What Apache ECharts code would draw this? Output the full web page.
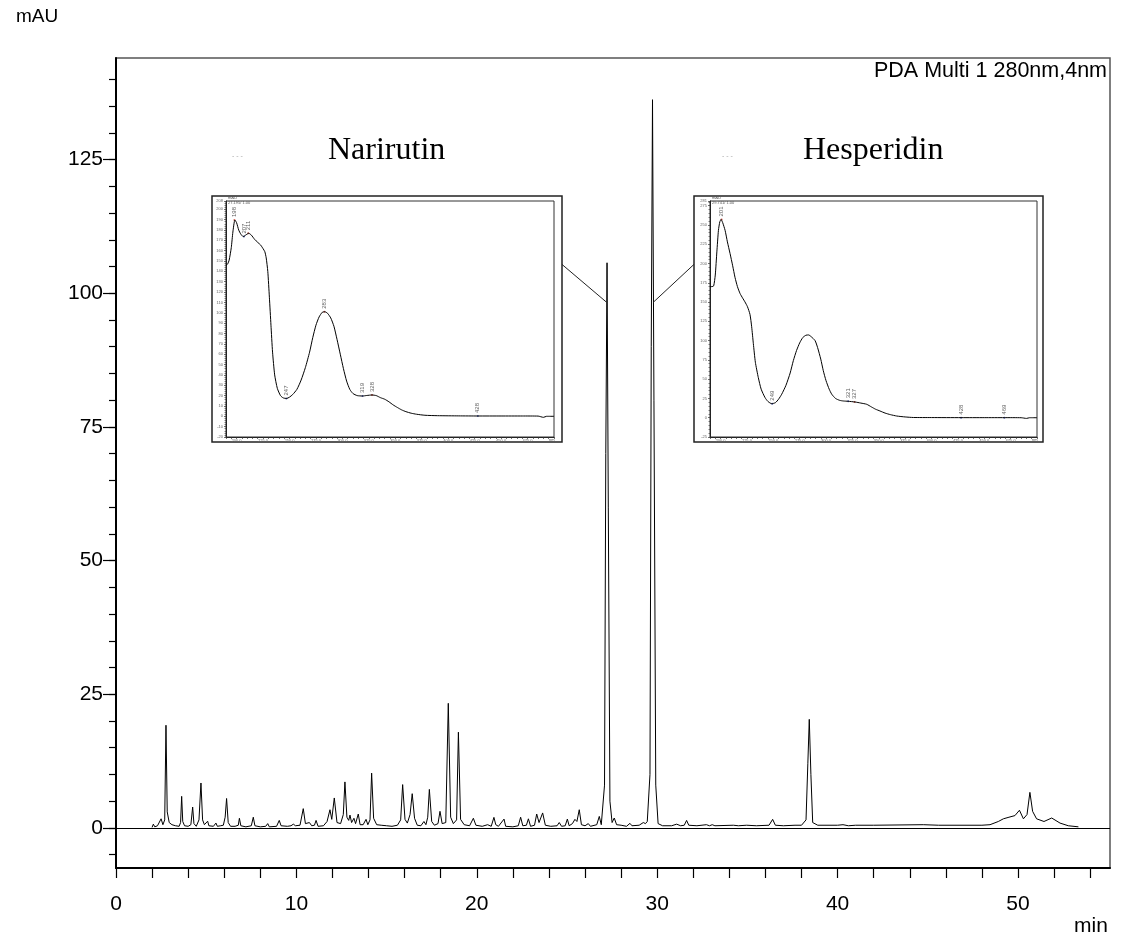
<!DOCTYPE html>
<html>
<head>
<meta charset="utf-8">
<script src="https://cdn.jsdelivr.net/npm/echarts@6/dist/echarts.min.js"></script>
<style>
  html, body { margin: 0; padding: 0; background: #fff; }
  #myChart { width: 1123px; height: 943px; }
</style>
</head>
<body>
<div id="myChart"></div>
<script>
// chromatogram, PDA 280 nm: [time min, mAU]
var trace = [
  [2.0,0.1],[2.07,0.7],[2.15,0.2],[2.3,0.4],[2.5,1.7],[2.6,0.6],[2.7,1.5],[2.77,19.2],[2.84,3],[2.95,1.0],[3.1,0.6],[3.3,0.4],
  [3.5,0.3],[3.58,1],[3.64,5.9],[3.7,1.2],[3.8,0.4],[4.0,0.3],[4.15,0.6],[4.25,3.9],[4.32,0.8],[4.45,0.3],[4.6,1.5],[4.71,8.4],
  [4.8,1.5],[4.9,0.6],[5.0,0.5],[5.08,1.25],[5.15,0.4],[5.4,0.3],[5.54,0.9],[5.62,0.3],[5.8,0.4],[5.95,0.5],[6.05,2],[6.13,5.5],
  [6.22,1],[6.35,0.3],[6.6,0.3],[6.78,0.5],[6.84,1.8],[6.92,0.4],[7.2,0.2],[7.5,0.4],[7.61,2.0],[7.7,0.4],[8.0,0.2],[8.3,0.3],
  [8.41,0.8],[8.5,0.2],[8.9,0.3],[9.05,1.4],[9.15,0.4],[9.5,0.3],[9.7,0.4],[9.83,0.7],[9.95,0.4],[10.2,0.5],[10.38,3.6],[10.5,0.8],
  [10.6,0.5],[10.72,1.0],[10.85,0.4],[11.0,0.5],[11.09,1.4],[11.2,0.3],[11.5,0.4],[11.7,1.2],[11.86,3.4],[11.96,1.6],[12.1,5.6],
  [12.25,1.0],[12.45,0.8],[12.6,2.5],[12.69,8.6],[12.8,2.0],[12.9,1.4],[12.97,2.4],[13.06,1.0],[13.19,1.8],[13.28,0.8],[13.43,2.6],
  [13.53,0.6],[13.7,0.6],[13.86,1.6],[13.96,0.6],[14.08,1.5],[14.17,10.25],[14.28,1.8],[14.45,0.6],[14.7,0.5],[15.0,0.4],[15.3,0.3],
  [15.6,0.5],[15.78,1.5],[15.89,8.1],[16.02,1.6],[16.15,0.9],[16.3,2.5],[16.42,6.4],[16.55,1.8],[16.7,0.5],[16.9,0.4],[17.07,1.2],
  [17.18,0.6],[17.28,2],[17.37,7.2],[17.5,1.2],[17.65,0.5],[17.85,0.8],[17.96,3.1],[18.08,0.8],[18.28,1.0],[18.42,23.3],[18.55,2],
  [18.7,0.8],[18.88,1.5],[18.98,17.9],[19.1,1.6],[19.3,0.6],[19.6,0.4],[19.81,1.8],[19.95,0.5],[20.3,0.3],[20.6,0.6],[20.8,0.3],
  [20.95,1.97],[21.05,0.6],[21.2,0.3],[21.51,1.65],[21.6,0.3],[22.0,0.2],[22.3,0.4],[22.43,2.0],[22.55,0.4],[22.75,0.5],[22.86,1.7],
  [22.98,0.3],[23.2,0.5],[23.32,2.6],[23.45,1.0],[23.65,2.8],[23.8,0.5],[24.1,0.3],[24.45,0.4],[24.57,1.0],[24.7,0.3],[24.9,0.4],
  [25.02,1.65],[25.12,0.4],[25.3,0.8],[25.44,1.6],[25.55,1.2],[25.68,3.4],[25.8,0.6],[26.0,0.4],[26.18,0.8],[26.3,0.3],[26.65,0.6],
  [26.79,2.15],[26.9,0.6],[27.0,0.6],[27.08,8],[27.15,70],[27.22,105.7],[27.29,60],[27.38,5],[27.5,1],[27.62,1.85],[27.75,0.6],
  [28.0,0.5],[28.3,0.3],[28.49,0.85],[28.6,0.4],[29.0,0.5],[29.23,1.0],[29.35,0.8],[29.45,1.2],[29.6,10],[29.67,90],[29.74,136.2],
  [29.82,80],[29.92,8],[30.05,0.8],[30.3,0.4],[30.8,0.4],[31.08,0.7],[31.3,0.4],[31.5,0.5],[31.63,1.4],[31.75,0.5],[32.2,0.4],
  [32.73,0.6],[32.9,0.4],[33.05,0.6],[33.2,0.4],[34.22,0.5],[34.5,0.4],[34.96,0.5],[35.5,0.4],[36.2,0.5],[36.4,1.6],[36.55,0.5],
  [37.0,0.4],[37.64,0.5],[38.0,0.5],[38.25,1.5],[38.35,12],[38.43,20.3],[38.52,10],[38.62,1.0],[38.9,0.5],[40.0,0.5],[40.3,0.6],
  [40.6,0.4],[41.0,0.5],[42.0,0.5],[44.75,0.6],[45.6,0.5],[48.0,0.5],[48.45,0.6],[48.91,1.2],[49.19,1.7],[49.5,2.0],[49.83,2.3],
  [50.08,3.3],[50.3,1.7],[50.5,2.5],[50.66,6.65],[50.81,3.1],[51.03,1.7],[51.44,1.2],[51.87,1.85],[52.33,0.9],[52.79,0.4],[53.35,0.2]
];

var xLabels = [0, 10, 20, 30, 40, 50];
var xTicks = [0,2,4,6,8,10,12,14,16,18,20,22,24,26,28,30,32,34,36,38,40,42,44,46,48,50,52,54];
var yLabels = [0, 25, 50, 75, 100, 125];
var yTicks = [-5,0,5,10,15,20,25,30,35,40,45,50,55,60,65,70,75,80,85,90,95,100,105,110,115,120,125,130,135,140];

// UV spectra of the two peaks: [nm, mAU]
var naruSpec = [
  [190,146],[191.5,147],[193,151],[195,163],[196.5,178],[198.4,189.6],[200,187],[202,180],[204,176],[206.3,173.6],[208.5,175],
  [211.5,176.8],[214,175],[217,171],[220,168],[222.7,165.5],[225,162],[226.7,159],[228,153],[229.5,140],[231,115],[232.5,88],
  [234,62],[236,40],[238.5,27],[241.5,20],[244,17.8],[247.2,17.2],[250,18.5],[253,21],[257,26],[261,35],[265,47],[269,62],
  [272,76],[275,88],[278,96],[281,100.5],[283.4,101],[286,99.5],[289,95],[292,87],[295,74],[298,60],[301,46],[304,34],[307,26],
  [310,22],[314,20],[319,19.6],[323,20.1],[328,20.6],[332,20],[336,18],[340,16.5],[344,14],[348,11],[352,8.5],[356,6.2],
  [360,4.5],[365,3],[370,2],[378,1],[390,0.6],[410,0.4],[428,0.3],[450,0.3],[470,0.3],[485,0.2],[490,-1],[493,0],[500,0]
];
var hespSpec = [
  [190,170],[192,170],[193.5,171],[195,185],[196.5,215],[198,243],[199.3,254],[200.5,257],[202,253],[204.3,243],[206.5,228],
  [209,213],[211.5,197],[213.7,182],[216,170],[218.5,161],[221,155],[223.2,150],[225.5,144],[227.9,134],[229.5,118],[231.1,96],
  [233,72],[235.8,52],[238.5,37],[242.2,26],[245,21],[248.5,18.2],[252,19.5],[255,24],[258,30.5],[262,42],[266,58],[269,74],
  [272,87],[275,97],[278,104],[281,107],[283.5,107.3],[286,105],[289.6,100],[292,91],[295,76],[297.4,61],[300,48],[303,37],
  [305.4,30.5],[309,25],[313,22.5],[316.4,21.7],[321,21.3],[327.5,20.4],[333,19],[338.6,17.4],[343,14],[347,11],[351.2,8.7],
  [356,6],[361,4],[367,2.2],[375,1],[382.8,0.3],[400,0.2],[428,0.1],[450,0.1],[469,0.1],[485,0],[490,-0.9],[493,0],[500,0]
];
var naruPeakNm = [198, 207, 211, 247, 283, 319, 328, 428];
var naruPeakAbs = [189.6, 173.6, 176.8, 17.2, 101, 19.6, 20.6, 0.3];
var naruPeakMax = [1, 0, 1, 0, 1, 0, 1, 0];
var hespPeakNm = [201, 249, 321, 327, 428, 469];
var hespPeakAbs = [257, 18.2, 21.3, 20.4, 0.1, 0.1];
var hespPeakMax = [1, 0, 0, 1, 0, 0];

// leader lines from the insets to the peaks
var naruLeader = [[24.72, 105.4], [27.2, 98.3]];
var hespLeader = [[32.04, 105.4], [29.78, 98.3]];

var mainFont = "'Liberation Sans', Arial, sans-serif";

function peakPoints(nm, abs, isMax) {
  var pts = [];
  nm.forEach(function (v, i) {
    pts.push({
      value: [v, abs[i]],
      itemStyle: { color: isMax[i] ? '#c0392b' : '#2c3e9c' }
    });
  });
  return pts;
}

function insetX(gi) {
  return {
    type: 'value', gridIndex: gi, min: 190, max: 500, interval: 5,
    axisLine: { onZero: false, lineStyle: { color: '#222', width: 1 } },
    axisTick: { show: true, length: 2, lineStyle: { color: '#333', width: 0.7 } },
    axisLabel: {
      fontSize: 4, color: '#666', margin: 2,
      formatter: function (v) { return (v % 25 === 0 && v < 500) ? v.toFixed(1) : ''; }
    },
    splitLine: { show: false }
  };
}
function insetY(gi, min, max, step) {
  return {
    type: 'value', gridIndex: gi, min: min, max: max, interval: step,
    axisLine: { onZero: false, lineStyle: { color: '#222', width: 1 } },
    axisTick: { show: true, length: 2, lineStyle: { color: '#333', width: 0.7 } },
    minorTick: { show: true, splitNumber: 5, length: 1.5, lineStyle: { color: '#333', width: 0.6 } },
    axisLabel: { fontSize: 4, color: '#666', margin: 3 },
    splitLine: { show: false }
  };
}

var option = {
  backgroundColor: '#fff',
  animation: false,
  grid: [
    { left: 116, top: 58, width: 994, height: 810, show: true, borderColor: '#555', borderWidth: 1.5 },
    { left: 226, top: 201, width: 328, height: 236, show: true, borderColor: '#333', borderWidth: 1, backgroundColor: '#fff' },
    { left: 710, top: 201, width: 327, height: 236, show: true, borderColor: '#333', borderWidth: 1, backgroundColor: '#fff' }
  ],
  xAxis: [
    {
      type: 'value', gridIndex: 0, min: 0, max: 55.1,
      axisLine: { onZero: false, lineStyle: { color: '#000', width: 2 } },
      axisTick: { show: true, customValues: xTicks, length: 10, lineStyle: { color: '#000', width: 1.2 } },
      axisLabel: { customValues: xLabels, fontSize: 21, color: '#000', fontFamily: mainFont, margin: 26 },
      splitLine: { show: false }
    },
    insetX(1),
    insetX(2)
  ],
  yAxis: [
    {
      type: 'value', gridIndex: 0, min: -7.5, max: 144,
      axisLine: { onZero: false, lineStyle: { color: '#000', width: 2 } },
      axisTick: { show: true, customValues: yLabels, length: 13, lineStyle: { color: '#000', width: 1.2 } },
      axisLabel: { customValues: yLabels, fontSize: 21, color: '#000', fontFamily: mainFont, margin: 13 },
      splitLine: { show: false }
    },
    {
      type: 'value', gridIndex: 0, min: -7.5, max: 144, position: 'left',
      axisLine: { show: false, onZero: false },
      axisTick: { show: true, customValues: yTicks, length: 7, lineStyle: { color: '#000', width: 1.2 } },
      axisLabel: { show: false },
      splitLine: { show: false }
    },
    insetY(1, -20, 208, 10),
    insetY(2, -25, 281, 25)
  ],
  graphic: [
    { type: 'text', left: 16, top: 7, style: { text: 'mAU', font: '19px ' + mainFont, fill: '#000' } },
    { type: 'text', left: 1074, top: 916, style: { text: 'min', font: '21px ' + mainFont, fill: '#000' } },
    { type: 'text', right: 16, top: 60, style: { text: 'PDA Multi 1 280nm,4nm', font: '21.5px ' + mainFont, fill: '#000' } },
    { type: 'text', left: 328, top: 135, style: { text: 'Narirutin', font: '32px "Liberation Serif", "Times New Roman", serif', fill: '#000' } },
    { type: 'text', left: 803, top: 135, style: { text: 'Hesperidin', font: '32px "Liberation Serif", "Times New Roman", serif', fill: '#000' } },
    { type: 'text', left: 232, top: 153, style: { text: '- - -', font: '7px ' + mainFont, fill: '#aaa' } },
    { type: 'text', left: 722, top: 153, style: { text: '- - -', font: '7px ' + mainFont, fill: '#aaa' } },
    { type: 'rect', shape: { x: 212, y: 196, width: 350, height: 246 }, style: { fill: 'none', stroke: '#222', lineWidth: 1.5 } },
    { type: 'rect', shape: { x: 694, y: 196, width: 349, height: 246 }, style: { fill: 'none', stroke: '#222', lineWidth: 1.5 } },
    { type: 'text', left: 228, top: 196, style: { text: 'mAU', font: '4px ' + mainFont, fill: '#555' } },
    { type: 'text', left: 228, top: 201, style: { text: '27.195/ 1.00', font: '4px ' + mainFont, fill: '#555' } },
    { type: 'text', left: 712, top: 196, style: { text: 'mAU', font: '4px ' + mainFont, fill: '#555' } },
    { type: 'text', left: 712, top: 201, style: { text: '29.741/ 1.00', font: '4px ' + mainFont, fill: '#555' } },
    { type: 'text', left: 549, top: 438, style: { text: 'nm', font: '4px ' + mainFont, fill: '#555' } },
    { type: 'text', left: 1032, top: 438, style: { text: 'nm', font: '4px ' + mainFont, fill: '#555' } }
  ],
  series: [
    {
      name: 'PDA Multi 1', type: 'line', xAxisIndex: 0, yAxisIndex: 0,
      data: trace, showSymbol: false, silent: true,
      lineStyle: { color: '#000', width: 1 },
      markLine: {
        silent: true, symbol: 'none', label: { show: false },
        lineStyle: { color: '#000', width: 1, type: 'solid' },
        data: [{ yAxis: 0 }]
      }
    },
    { type: 'line', xAxisIndex: 0, yAxisIndex: 0, data: naruLeader, showSymbol: false, silent: true, lineStyle: { color: '#222', width: 1 } },
    { type: 'line', xAxisIndex: 0, yAxisIndex: 0, data: hespLeader, showSymbol: false, silent: true, lineStyle: { color: '#222', width: 1 } },
    { type: 'line', xAxisIndex: 1, yAxisIndex: 2, data: naruSpec, showSymbol: false, smooth: 0.2, silent: true, lineStyle: { color: '#000', width: 1 } },
    { type: 'line', xAxisIndex: 2, yAxisIndex: 3, data: hespSpec, showSymbol: false, smooth: 0.2, silent: true, lineStyle: { color: '#000', width: 1 } },
    {
      type: 'scatter', xAxisIndex: 1, yAxisIndex: 2, data: peakPoints(naruPeakNm, naruPeakAbs, naruPeakMax),
      symbolSize: 2, silent: true,
      label: { show: true, position: 'top', rotate: 90, distance: 2, fontSize: 6, color: '#333', align: 'left', verticalAlign: 'middle',
        formatter: function (p) { return String(p.value[0]); } }
    },
    {
      type: 'scatter', xAxisIndex: 2, yAxisIndex: 3, data: peakPoints(hespPeakNm, hespPeakAbs, hespPeakMax),
      symbolSize: 2, silent: true,
      label: { show: true, position: 'top', rotate: 90, distance: 2, fontSize: 6, color: '#333', align: 'left', verticalAlign: 'middle',
        formatter: function (p) { return String(p.value[0]); } }
    }
  ]
};

var myChart = echarts.init(document.getElementById('myChart'), null, { renderer: 'canvas' });
myChart.setOption(option);
</script>
</body>
</html>
